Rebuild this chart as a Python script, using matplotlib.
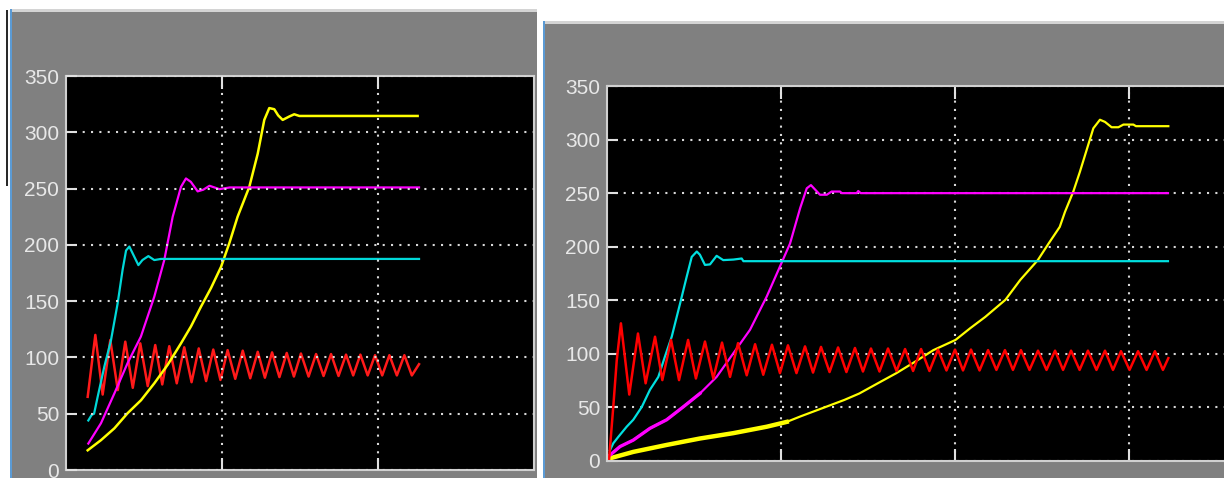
import matplotlib
matplotlib.use('Agg')
import matplotlib.pyplot as plt
from matplotlib.patches import Rectangle

plt.rcParams['font.family'] = ['Liberation Sans Narrow', 'Liberation Sans', 'DejaVu Sans']

# === data (time in grid divisions) ===
# left scope
l_cyan_t = [0.143, 0.165, 0.18, 0.203, 0.246, 0.288, 0.331, 0.363, 0.385, 0.406, 0.427, 0.464, 0.49, 0.528, 0.566, 0.609, 2.263]
l_cyan = [44, 49, 50, 65, 92, 115, 148, 178, 195, 198.5, 192.5, 182, 186.5, 190, 186.5, 187.5, 187.5]

l_mag_t = [0.143, 0.224, 0.31, 0.395, 0.48, 0.566, 0.63, 0.684, 0.737, 0.769, 0.80, 0.844, 0.88, 0.92, 0.983, 1.05, 2.263]
l_mag = [23.5, 41.5, 68, 95, 118.5, 154, 186.5, 225, 251.5, 259, 256, 247.5, 249, 252.5, 249.5, 251, 251]

l_yel_t = [0.139, 0.224, 0.31, 0.395, 0.481, 0.566, 0.652, 0.737, 0.801, 0.865, 0.929, 0.994, 1.047, 1.1,
           1.175, 1.229, 1.271, 1.303, 1.335, 1.36, 1.389, 1.431, 1.463, 1.496, 2.254]
l_yel = [17.5, 26.5, 37, 50.5, 62, 77, 93.5, 112.5, 127.5, 145, 161.5, 180.5, 201.5, 225,
         251.5, 281, 311, 321.5, 320.5, 315, 311, 314, 316, 314.5, 314.5]

l_red_t = [0.139, 0.188, 0.235, 0.284, 0.332, 0.380, 0.428, 0.476, 0.524, 0.572, 0.617,
           0.662, 0.710, 0.758, 0.805, 0.851, 0.898, 0.944, 0.990, 1.036, 1.085,
           1.133, 1.181, 1.229, 1.275, 1.321, 1.368, 1.415, 1.461, 1.506, 1.555,
           1.603, 1.651, 1.699, 1.747, 1.795, 1.841, 1.887, 1.934, 1.981, 2.027,
           2.073, 2.121, 2.169, 2.217, 2.263]
l_red = [65, 120, 67, 115.5, 71, 114, 73, 112.5, 74.5, 111, 76,
         110, 77, 109, 78, 108, 79, 107, 80, 106.5, 81,
         106, 81.5, 105, 82, 104.5, 82.5, 104, 83, 103.5, 83,
         103, 83.5, 103, 83.5, 102.5, 84, 102.5, 84, 102, 84,
         102, 84, 102, 84, 94]

# right scope
r_cyan_t = [0.017, 0.036, 0.065, 0.113, 0.151, 0.2, 0.247, 0.295, 0.333, 0.372, 0.42, 0.458, 0.487,
            0.516, 0.534, 0.563, 0.592, 0.63, 0.668, 0.726, 0.774, 0.784, 3.224]
r_cyan = [10, 16.5, 22.5, 32, 38.5, 50.5, 66.5, 78.5, 97.5, 116, 147, 172, 190.5,
          195.5, 192.5, 183, 183.5, 191.5, 187.5, 188, 189, 186.5, 186.5]

r_mag_t = [0.017, 0.075, 0.151, 0.247, 0.343, 0.438, 0.534, 0.63, 0.726, 0.822, 0.918, 0.994, 1.052,
           1.11, 1.148, 1.172, 1.224, 1.263, 1.291, 1.339, 1.349, 1.435, 1.444, 1.458, 3.224]
r_mag = [5.5, 13.5, 19.5, 30.5, 38.5, 50.5, 63, 78.5, 100.5, 122.5, 153.5, 181.5, 203,
         236, 254.5, 257.5, 248.5, 248.5, 251.5, 251.5, 250, 250, 252, 250, 250]

r_yel_t = [0.017, 0.151, 0.343, 0.534, 0.726, 0.918, 1.033, 1.11, 1.364, 1.45, 1.556, 1.663, 1.769,
           1.876, 2.003, 2.088, 2.174, 2.29, 2.375, 2.476, 2.538, 2.602, 2.632, 2.68, 2.718, 2.795,
           2.833, 2.862, 2.9, 2.939, 2.968, 3.025, 3.04, 3.226]
r_yel = [2.5, 8.5, 15, 21, 26, 32, 36.5, 41.5, 57, 63, 72.5, 82, 92.5,
         103.5, 113, 124, 134.5, 150.5, 169, 187.5, 203, 218.5, 232.5, 251.5, 270, 310.5,
         318.5, 316.5, 311.5, 311.5, 314, 314, 312.5, 312.5]

r_red_t = [0.012, 0.036, 0.056, 0.080, 0.128, 0.178, 0.222, 0.276, 0.318, 0.368, 0.414,
           0.466, 0.511, 0.563, 0.611, 0.661, 0.707, 0.753, 0.803, 0.851, 0.898,
           0.948, 0.994, 1.040, 1.089, 1.138, 1.184, 1.230, 1.279, 1.328, 1.376,
           1.425, 1.471, 1.517, 1.566, 1.615, 1.664, 1.713, 1.759, 1.805, 1.853,
           1.902, 1.951, 2.000, 2.046, 2.092, 2.141, 2.190, 2.238, 2.287, 2.333,
           2.379, 2.428, 2.477, 2.526, 2.575, 2.621, 2.667, 2.716, 2.764, 2.813,
           2.862, 2.908, 2.954, 3.003, 3.052, 3.101, 3.149, 3.195, 3.226]
r_red = [2, 50.5, 94, 128.5, 62, 119, 72.5, 116, 75.5, 113, 75.5,
         113, 77, 111.5, 77, 110.5, 78.5, 110, 80, 109, 80.5,
         108.5, 82, 108, 82, 107, 82.5, 106.5, 83, 106, 83,
         105.5, 83.5, 105, 83.5, 105, 84, 104.5, 84, 104.5, 84,
         104, 84.5, 104, 84.5, 104, 84.5, 103.5, 85, 103.5, 85,
         103.5, 85, 103, 85, 103, 85, 103, 85, 103, 85,
         103, 85, 102.5, 85, 102.5, 85, 102.5, 85, 96]

y_ticks = [0, 50, 100, 150, 200, 250, 300, 350]

W, H = 1224, 478
GRAY = '#808080'

fig = plt.figure(figsize=(W / 100, H / 100), dpi=100)
fig.patch.set_facecolor('white')


def box(x0, y0, x1, y1, color):
    # pixel box, y measured from the top of the image
    fig.add_artist(Rectangle((x0 / W, 1 - y1 / H), (x1 - x0) / W, (y1 - y0) / H,
                             transform=fig.transFigure, facecolor=color,
                             edgecolor='none', zorder=-5))


# window frames of the two scopes
box(12, 9, 537, 478, GRAY)
box(12, 9, 537, 12, '#d4d4d4')
box(10, 9, 12, 478, '#5b9bd5')
box(6, 10, 8, 186, '#2a2a2a')
box(545, 21, W, 478, GRAY)
box(545, 21, W, 24, '#d4d4d4')
box(543, 21, 545, 478, '#5b9bd5')


def scope(ax, xmax, fs):
    ax.set_facecolor('black')
    ax.set_xlim(0, xmax)
    ax.set_ylim(0, 350)
    ax.set_yticks(y_ticks)
    ax.set_xticks(list(range(1, xmax)))
    ax.grid(True, color='#d8d8d8', linestyle=(0, (1, 3)), linewidth=1.5)
    ax.tick_params(axis='y', direction='in', length=8, width=1.5, color='#e0e0e0',
                   labelcolor='#e8e8e8', labelsize=fs, pad=5)
    ax.tick_params(axis='x', direction='in', length=9, width=1.5, color='#e0e0e0',
                   top=True, bottom=True, labelbottom=False)
    for s in ax.spines.values():
        s.set_color('#d0d0d0')
        s.set_linewidth(1.5)


# === left scope ===
ax1 = fig.add_axes([66 / W, 1 - 470 / H, 3 * 156 / W, 394 / H])
scope(ax1, 3, 15)
ax1.set_axisbelow(False)
ax1.plot(l_red_t, l_red, color='#ff1a1a', lw=1.8)
ax1.plot(l_yel_t, l_yel, color='#ffff00', lw=1.8)
ax1.plot(l_mag_t, l_mag, color='#ff00ff', lw=1.6)
ax1.plot(l_cyan_t, l_cyan, color='#00d8d8', lw=1.6)

# === right scope ===
ax2 = fig.add_axes([607 / W, 1 - 461 / H, 4 * 174 / W, 375 / H])
scope(ax2, 4, 15)
ax2.plot(r_yel_t, r_yel, color='#ffff00', lw=1.6)
ax2.plot(r_yel_t[:7], r_yel[:7], color='#ffff00', lw=3.2)
ax2.plot(r_mag_t, r_mag, color='#ff00ff', lw=1.6)
ax2.plot(r_mag_t[:7], r_mag[:7], color='#ff00ff', lw=2.4)
ax2.plot(r_cyan_t, r_cyan, color='#00e0e0', lw=1.6)
ax2.plot(r_red_t, r_red, color='#ff0000', lw=1.8)

fig.savefig('out.png', dpi=100)
